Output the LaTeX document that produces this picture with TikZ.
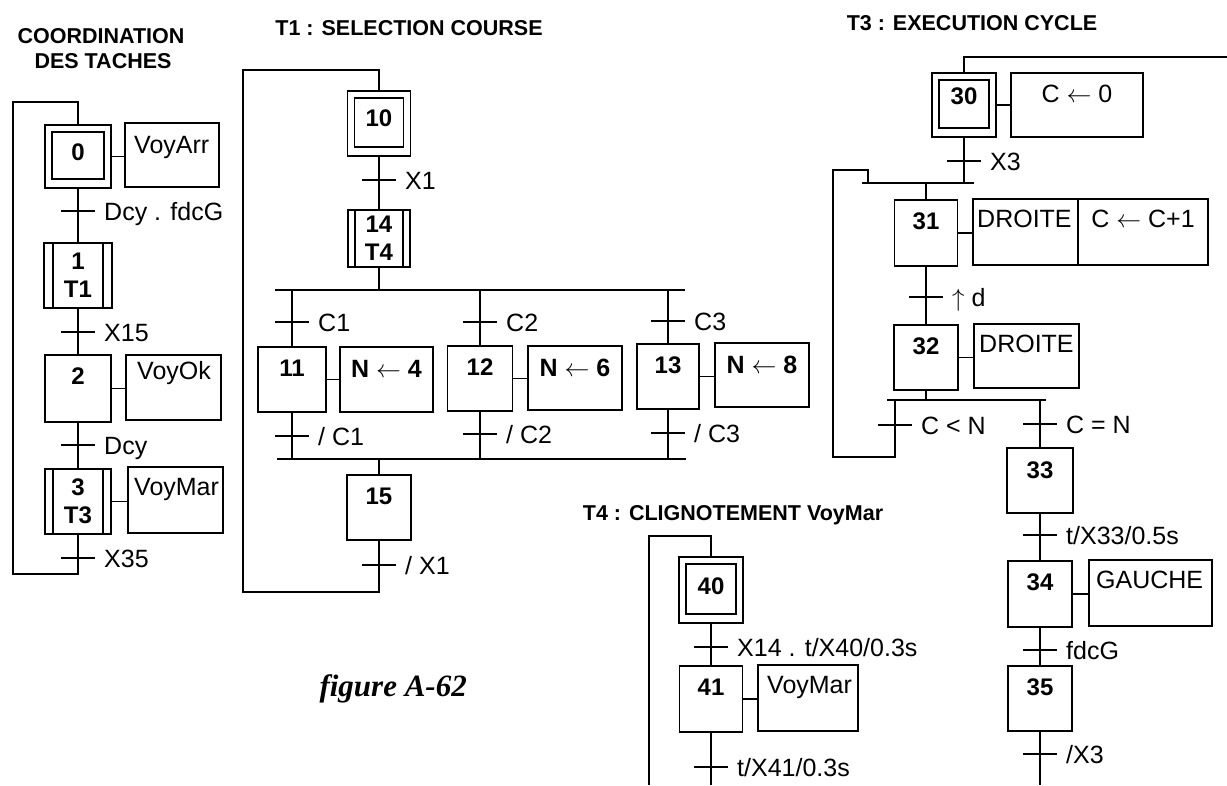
\documentclass[tikz,border=0pt]{standalone}
\usepackage{fontspec}
\setmainfont{Liberation Sans}
\newfontfamily\figserif{Liberation Serif}
\newcommand\stepfont{\bfseries\fontsize{24}{28}\selectfont}
\newcommand\lblfont{\fontsize{25}{30}\selectfont}
\newcommand\actfont{\fontsize{25}{30}\selectfont}
\newcommand\ttlfont{\bfseries\fontsize{21.5}{25}\selectfont}
\newcommand\grtrans[4]{%
  \coordinate (#1) at (#2,#3);
  \draw[ln] ([xshift=-17pt]#1) -- ([xshift=17pt]#1);
  \node[lbl] (#1l) at ([shift={(26pt,-9pt)}]#1) {#4};}
\newcommand\initinner[1]{\draw[ln] ([shift={(7pt,-7pt)}]#1.north west) rectangle ([shift={(-7pt,9pt)}]#1.south east);}
\newcommand\macrolines[2]{\draw[ln] ([xshift=#2]#1.north west) -- ([xshift=#2]#1.south west);
  \draw[ln] ([xshift=-#2]#1.north east) -- ([xshift=-#2]#1.south east);}
\begin{document}
\begin{tikzpicture}[x=1pt,y=-1pt,
  ln/.style={line width=1.8pt},
  box/.style={draw, line width=1.8pt, inner sep=0pt, outer sep=0pt},
  stepbox/.style={box, anchor=north, minimum width=64pt, minimum height=65pt, font=\stepfont, text height=29.5pt, text depth=35.5pt},
  initstep/.style={stepbox, text height=35pt, text depth=30pt},
  macrostep/.style={box, anchor=north, minimum width=66pt, minimum height=65pt, font=\stepfont, align=center},
  actbox/.style={box, anchor=north west},
  acttxt/.style={font=\actfont, inner sep=0pt, anchor=base west},
  lbl/.style={font=\lblfont, inner sep=0pt, anchor=base west},
  ttl/.style={font=\ttlfont, inner sep=0pt, anchor=base}]
\fill[white] (0,0) rectangle (1227,785);
\useasboundingbox (0,0) rectangle (1227,785);

% ---------------- COORDINATION DES TACHES
\node[ttl] (ttl0a) at (101,43) {COORDINATION};
\node[ttl] (ttl0b) at (103,68) {DES TACHES};
\node[initstep, minimum width=66pt, minimum height=63pt, text height=35pt, text depth=28pt] (s0) at (78,125) {0};
\initinner{s0}
\grtrans{t0}{78}{211}{Dcy . fdcG}
\node[macrostep, minimum width=68pt] (s1) at (78,243) {1\\T1};
\macrolines{s1}{9pt}
\grtrans{t1}{78}{332}{X15}
\node[stepbox, minimum width=66pt, text depth=37.5pt] (s2) at (78,355) {2};
\grtrans{t2}{78}{445}{Dcy}
\node[macrostep] (s3) at (78,469) {3\\T3};
\macrolines{s3}{8pt}
\grtrans{t3}{78}{558}{X35}
\draw[ln] (s0.south) -- (s1.north) (s1.south) -- (s2.north) (s2.south) -- (s3.north);
\coordinate (c0a) at (78,574);
\coordinate (c0b) at (13,102);
\draw[ln] (s3.south) -- (c0a) -| (c0b) -| (s0.north);
\node[actbox, minimum width=94pt, minimum height=64pt] (a0) at (125,123) {};
\node[acttxt] (a0t) at ([shift={(9pt,-30pt)}]a0.north west) {VoyArr};
\draw[ln] (s0.east) -- (a0.west |- s0.east);
\node[actbox, minimum width=95pt, minimum height=65pt] (a2) at (126,355) {};
\node[acttxt] (a2t) at ([shift={(11pt,-24pt)}]a2.north west) {VoyOk};
\draw[ln] (s2.east) -- (a2.west |- s2.east);
\node[actbox, minimum width=95pt, minimum height=66pt] (a3) at (128,467) {};
\node[acttxt] (a3t) at ([shift={(6pt,-28pt)}]a3.north west) {VoyMar};
\draw[ln] (s3.east) -- (a3.west |- s3.east);

% ---------------- T1
\node[ttl] (ttl1) at (409,35) {T1 : SELECTION COURSE};
\node[initstep, minimum width=63pt] (s10) at (379,91) {10};
\initinner{s10}
\grtrans{t10}{379}{180}{X1}
\node[macrostep, minimum width=62pt, minimum height=57pt] (s14) at (379,210) {14\\T4};
\macrolines{s14}{7pt}
\coordinate (d1l) at (275,290);
\coordinate (d1r) at (685,290);
\draw[ln] (d1l) -- (d1r);
\draw[ln] (s10.south) -- (s14.north) (s14.south) -- (s14.south |- d1l);
\node[stepbox, minimum width=68pt] (s11) at (292,347) {11};
\node[stepbox, minimum width=65pt] (s12) at (480,346) {12};
\node[stepbox, minimum width=62pt] (s13) at (668,344) {13};
\grtrans{t11}{292}{322}{C1}
\grtrans{t12}{480}{322}{C2}
\grtrans{t13}{668}{321}{C3}
\draw[ln] (s11.north |- d1l) -- (s11.north) (s12.north |- d1l) -- (s12.north) (s13.north |- d1l) -- (s13.north);
\node[actbox, minimum width=93pt, minimum height=65pt] (a11) at (340,347) {};
\node[acttxt, anchor=base] (a11t) at ([yshift=-30pt]a11.north) {\bfseries N $\leftarrow$ 4};
\draw[ln] (s11.east) -- (a11.west |- s11.east);
\node[actbox, minimum width=94pt, minimum height=64pt] (a12) at (528,346) {};
\node[acttxt, anchor=base] (a12t) at ([yshift=-30pt]a12.north) {\bfseries N $\leftarrow$ 6};
\draw[ln] (s12.east) -- (a12.west |- s12.east);
\node[actbox, minimum width=94pt, minimum height=64pt] (a13) at (715,343) {};
\node[acttxt, anchor=base] (a13t) at ([yshift=-30pt]a13.north) {\bfseries N $\leftarrow$ 8};
\draw[ln] (s13.east) -- (a13.west |- s13.east);
\coordinate (v1l) at (277,459);
\coordinate (v1r) at (686,459);
\draw[ln] (v1l) -- (v1r);
\grtrans{t11b}{292}{436}{/ C1}
\grtrans{t12b}{480}{434}{/ C2}
\grtrans{t13b}{668}{433}{/ C3}
\draw[ln] (s11.south) -- (s11.south |- v1l) (s12.south) -- (s12.south |- v1l) (s13.south) -- (s13.south |- v1l);
\node[stepbox] (s15) at (379,475) {15};
\draw[ln] (s15.north |- v1l) -- (s15.north);
\grtrans{t15}{379}{565}{/ X1}
\coordinate (c1a) at (379,592);
\coordinate (c1b) at (243,70);
\draw[ln] (s15.south) -- (c1a) -| (c1b) -| (s10.north);

% ---------------- T3
\node[ttl] (ttl3) at (972,30) {T3 : EXECUTION CYCLE};
\node[initstep, minimum height=64pt, text height=31pt, text depth=33pt] (s30) at (964,73) {30};
\initinner{s30}
\node[actbox, minimum width=132pt, minimum height=64pt] (a30) at (1011,73) {};
\node[acttxt, anchor=base] (a30t) at ([yshift=-29pt]a30.north) {C $\leftarrow$ 0};
\draw[ln] (s30.east) -- (a30.west |- s30.east);
\coordinate (e1) at (1227,57);
\draw[ln] (s30.north) |- (e1);
\grtrans{t30}{964}{161}{X3}
\coordinate (v3l) at (862,183);
\coordinate (v3r) at (974,183);
\draw[ln] (v3l) -- (v3r);
\draw[ln] (s30.south) -- (s30.south |- v3l);
\node[stepbox, minimum width=63pt, text depth=36.5pt] (s31) at (926,200) {31};
\draw[ln] (s31.north |- v3l) -- (s31.north);
\node[actbox, minimum width=105pt, minimum height=66pt] (a31a) at (973,199) {};
\node[actbox, minimum width=130pt, minimum height=66pt] (a31b) at (1078,199) {};
\node[acttxt] (a31at) at ([shift={(4pt,-28pt)}]a31a.north west) {DROITE};
\node[acttxt, anchor=base] (a31bt) at ([yshift=-28pt]a31b.north) {C $\leftarrow$ C+1};
\draw[ln] (s31.east) -- (a31a.west |- s31.east);
\grtrans{t31}{926}{297}{$\uparrow$ d}
\node[stepbox] (s32) at (926,325) {32};
\draw[ln] (s31.south) -- (s32.north);
\node[actbox, minimum width=105pt, minimum height=64pt] (a32) at (974,324) {};
\node[acttxt] (a32t) at ([shift={(5pt,-28pt)}]a32.north west) {DROITE};
\draw[ln] (s32.east) -- (a32.west |- s32.east);
\coordinate (d3l) at (887,400);
\coordinate (d3r) at (1046,400);
\draw[ln] (d3l) -- (d3r);
\draw[ln] (s32.south) -- (s32.south |- d3l);
\coordinate (b3) at (895,400);
\grtrans{t32}{895}{425}{C < N}
\coordinate (c3a) at (895,457);
\coordinate (c3b) at (833,170);
\coordinate (c3c) at (868,183);
\draw[ln] (b3) -- (c3a) -| (c3b) -| (c3c);
\grtrans{t32b}{1040}{424}{C = N}
\node[stepbox, minimum width=66pt, text depth=34.5pt] (s33) at (1040,448) {33};
\draw[ln] (s33.north |- d3l) -- (s33.north);
\grtrans{t33}{1040}{535}{t/X33/0.5s}
\node[stepbox, text depth=36.5pt] (s34) at (1040,561) {34};
\draw[ln] (s33.south) -- (s34.north);
\node[actbox, minimum width=123pt, minimum height=66pt] (a34) at (1089,560) {};
\node[acttxt] (a34t) at ([shift={(7pt,-28pt)}]a34.north west) {GAUCHE};
\draw[ln] (s34.east) -- (a34.west |- s34.east);
\grtrans{t34}{1040}{650}{fdcG}
\node[stepbox] (s35) at (1040,666) {35};
\draw[ln] (s34.south) -- (s35.north);
\grtrans{t35}{1040}{754}{/X3}
\coordinate (e2) at (1040,785);
\draw[ln] (s35.south) -- (e2);

% ---------------- T4
\node[ttl] (ttl4) at (733,520) {T4 : CLIGNOTEMENT VoyMar};
\node[initstep, text height=37pt, text depth=29pt] (s40) at (711,557) {40};
\initinner{s40}
\coordinate (c4a) at (649,785);
\coordinate (c4b) at (711,536);
\draw[ln] (c4a) |- (c4b) -- (s40.north);
\grtrans{t40}{711}{647}{X14 . t/X40/0.3s}
\node[stepbox, minimum width=63pt, text depth=36.5pt] (s41) at (711,666) {41};
\draw[ln] (s40.south) -- (s41.north);
\node[actbox, minimum width=100pt, minimum height=66pt] (a41) at (758,665) {};
\node[acttxt] (a41t) at ([shift={(9pt,-28pt)}]a41.north west) {VoyMar};
\draw[ln] (s41.east) -- (a41.west |- s41.east);
\grtrans{t41}{711}{767}{t/X41/0.3s}
\coordinate (e3) at (711,785);
\draw[ln] (s41.south) -- (e3);

% ---------------- figure label
\node[font=\figserif\bfseries\itshape\fontsize{31}{36}\selectfont, anchor=base east, inner sep=0pt] (fig) at (467,696) {figure A-62};
\end{tikzpicture}
\end{document}
